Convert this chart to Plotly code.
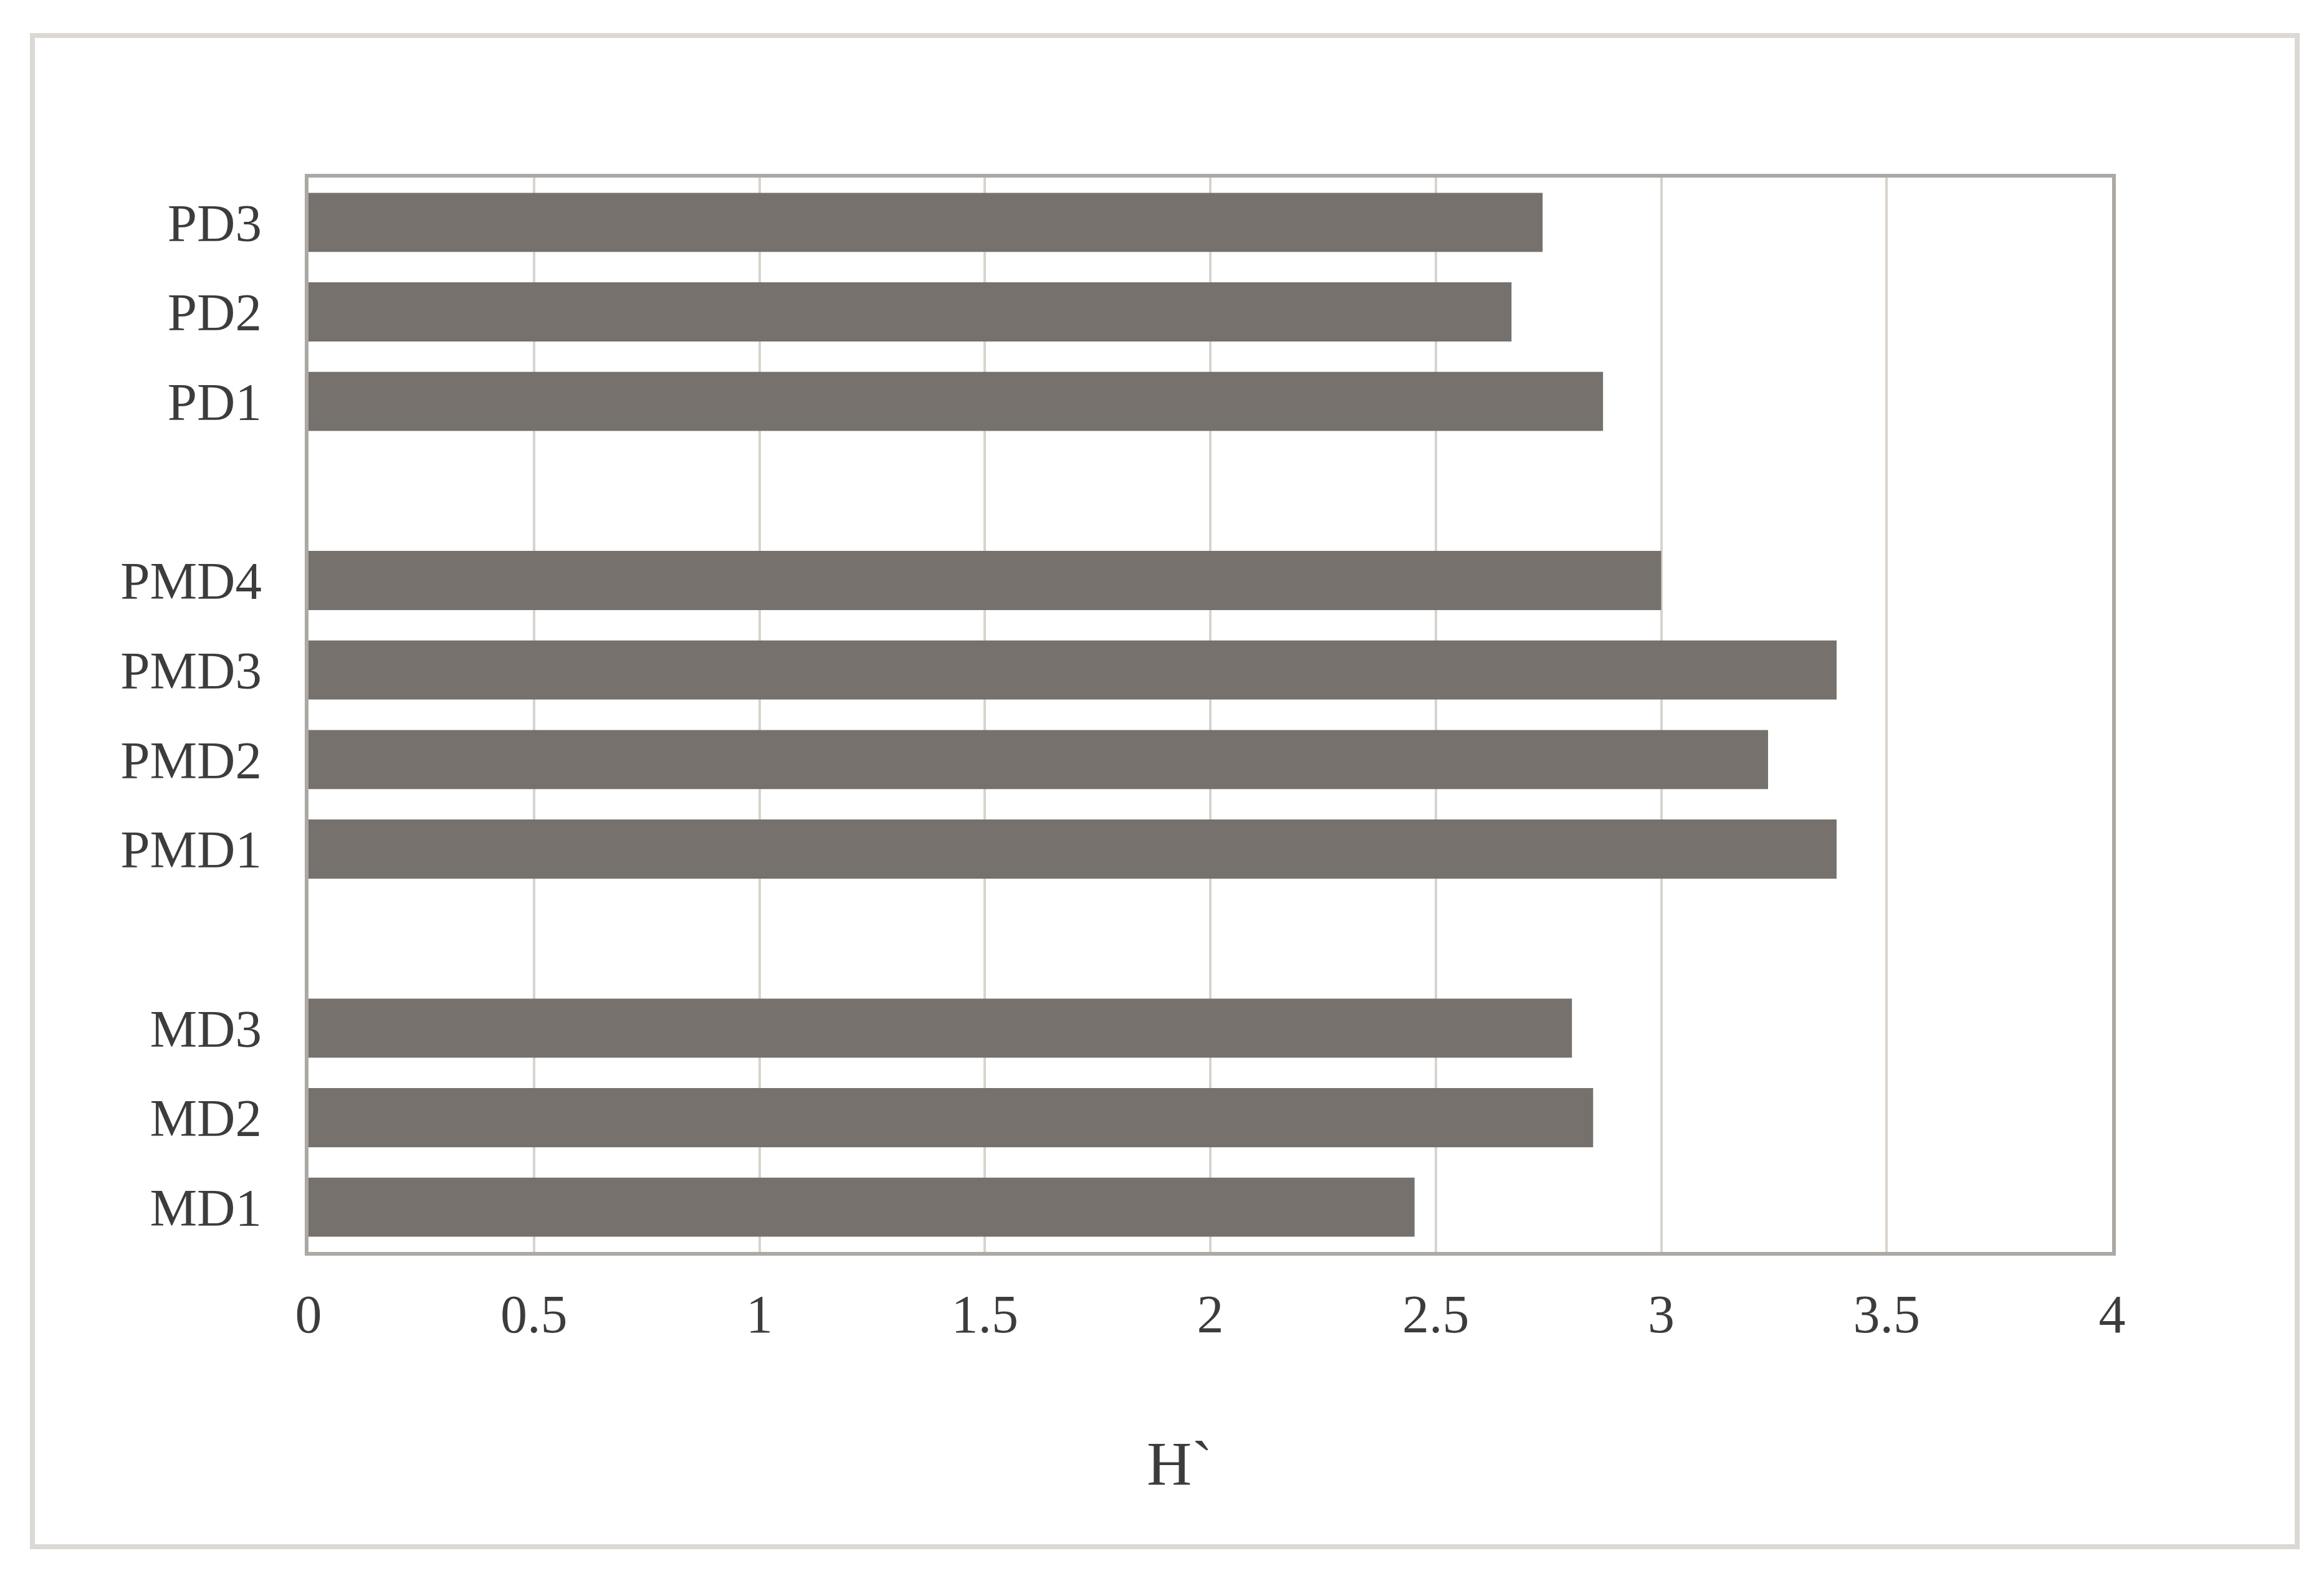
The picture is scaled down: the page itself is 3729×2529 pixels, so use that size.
import plotly.graph_objects as go

# categories top to bottom; blank entries are the spacer rows between groups
SITES = ["PD3", "PD2", "PD1", " ", "PMD4", "PMD3", "PMD2", "PMD1", "  ", "MD3", "MD2", "MD1"]
H_VALUES = [2.737, 2.668, 2.871, None, 3.0, 3.389, 3.237, 3.389, None, 2.802, 2.849, 2.453]
X_TICKS = [0, 0.5, 1, 1.5, 2, 2.5, 3, 3.5, 4]
X_TICK_TEXT = ["0", "0.5", "1", "1.5", "2", "2.5", "3", "3.5", "4"]

BAR = "#76716c"
GRID = "#d8d3ce"
FRAME = "#aca8a3"
BORDER = "#dcd8d4"
TEXT = "#3c3c3c"
FONT = "Liberation Serif"

W, H = 3729, 2529
OFF = 8  # page body margin shifts the figure
L, T = 495 - OFF, 285 - OFF
R, B = W - (3389 - OFF), H - (2009 - OFF)
pw, ph = W - L - R, H - T - B


def px_x(x):
    return (x - OFF - L) / pw


def px_y(y):
    return ((H - B) - (y - OFF)) / ph


fig = go.Figure(
    go.Bar(
        x=H_VALUES,
        y=SITES,
        orientation="h",
        marker=dict(color=BAR, line=dict(width=0)),
        showlegend=False,
    )
)

fig.update_layout(
    width=W,
    height=H,
    margin=dict(l=L, r=R, t=T, b=B, pad=0),
    plot_bgcolor="white",
    paper_bgcolor="white",
    bargap=0.34,
    font=dict(family=FONT, color=TEXT),
)

fig.update_xaxes(
    range=[0, 4],
    tickvals=X_TICKS,
    ticktext=X_TICK_TEXT,
    showgrid=True,
    gridcolor=GRID,
    gridwidth=4,
    zeroline=False,
    showline=True,
    linecolor=FRAME,
    linewidth=6,
    mirror=True,
    ticks="",
    ticklabelstandoff=20,
    tickfont=dict(size=86, family=FONT, color=TEXT),
)
fig.update_yaxes(
    categoryorder="array",
    categoryarray=SITES,
    autorange="reversed",
    showgrid=False,
    zeroline=False,
    showline=True,
    linecolor=FRAME,
    linewidth=6,
    mirror=True,
    ticks="",
    ticklabelstandoff=52,
    tickfont=dict(size=85, family=FONT, color=TEXT),
)

# axis title, placed slightly left of centre as in the original
fig.add_annotation(
    text="H`",
    xref="paper",
    yref="paper",
    x=px_x(1893),
    y=px_y(2348),
    xanchor="center",
    yanchor="middle",
    showarrow=False,
    font=dict(size=100, family=FONT, color=TEXT),
)

# outer frame around the whole chart
fig.add_shape(
    type="rect",
    xref="paper",
    yref="paper",
    x0=px_x(52),
    x1=px_x(3686),
    y0=px_y(2482),
    y1=px_y(57),
    line=dict(color=BORDER, width=8),
    fillcolor="rgba(0,0,0,0)",
    layer="below",
)

fig.write_html("out.html")
